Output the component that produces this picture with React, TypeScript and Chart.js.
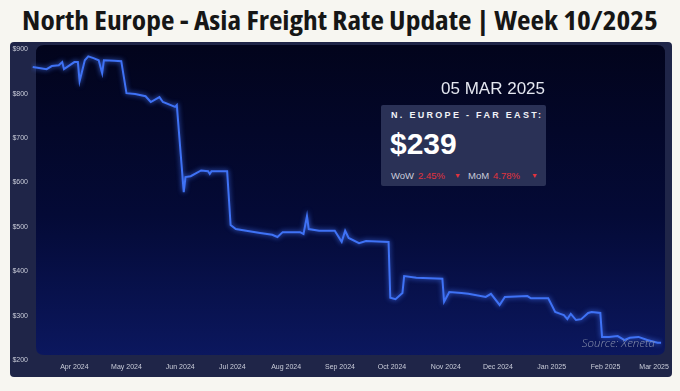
import React, { useEffect, useRef } from "react";
import { Chart, registerables } from "chart.js";
Chart.register(...registerables);

const titleText = "North Europe - Asia Freight Rate Update | Week 10/2025";
const dateLabel = "05 MAR 2025";
const routeLabel = "N. EUROPE - FAR EAST:";
const currentRate = "$239";
const wowChange = "2.45%";
const momChange = "4.78%";
const sourceText = "Source: Xeneta";

const dates = [
  "2024-03-08","2024-03-16","2024-03-19","2024-03-23","2024-03-25","2024-03-26","2024-04-01","2024-04-03","2024-04-04","2024-04-07",
  "2024-04-09","2024-04-12","2024-04-15","2024-04-17","2024-04-18","2024-04-24","2024-04-28","2024-05-01","2024-05-06","2024-05-12",
  "2024-05-15","2024-05-20","2024-05-22","2024-05-29","2024-05-30","2024-06-03","2024-06-04","2024-06-07","2024-06-13","2024-06-17",
  "2024-06-18","2024-06-19","2024-06-28","2024-06-30","2024-07-03","2024-07-09","2024-07-17","2024-07-24","2024-07-27","2024-07-30",
  "2024-08-09","2024-08-11","2024-08-13","2024-08-14","2024-08-20","2024-08-29","2024-09-02","2024-09-04","2024-09-06","2024-09-12",
  "2024-09-16","2024-09-29","2024-09-30","2024-10-03","2024-10-07","2024-10-08","2024-10-15","2024-10-30","2024-10-31","2024-11-03",
  "2024-11-10","2024-11-14","2024-11-24","2024-11-27","2024-12-02","2024-12-05","2024-12-18","2024-12-20","2024-12-30","2025-01-03",
  "2025-01-06","2025-01-08","2025-01-10","2025-01-12","2025-01-15","2025-01-18","2025-01-22","2025-01-24","2025-01-29","2025-01-30",
  "2025-02-03","2025-02-08","2025-02-12","2025-02-15","2025-02-20","2025-02-25","2025-03-03","2025-03-05",
];

const rates = [
  860, 855, 862, 864, 871, 855, 871, 871, 828, 875,
  884, 880, 875, 846, 875, 874, 873, 801, 799, 794,
  781, 792, 781, 770, 774, 578, 612, 614, 627, 625,
  619, 625, 625, 504, 495, 491, 486, 482, 477, 488,
  488, 484, 524, 495, 491, 491, 466, 491, 475, 463,
  468, 466, 340, 337, 351, 389, 385, 383, 331, 353,
  351, 349, 342, 349, 324, 342, 344, 339, 339, 308,
  304, 301, 292, 304, 290, 292, 306, 308, 306, 252,
  252, 254, 245, 250, 252, 245, 239, 239,
];

const tickDates = [
  "2024-04-01","2024-05-01","2024-06-01","2024-07-01","2024-08-01","2024-09-01",
  "2024-10-01","2024-11-01","2024-12-01","2025-01-01","2025-02-01","2025-03-01",
];
const tickLabels = [
  "Apr 2024","May 2024","Jun 2024","Jul 2024","Aug 2024","Sep 2024",
  "Oct 2024","Nov 2024","Dec 2024","Jan 2025","Feb 2025","Mar 2025",
];
const yTickValues = [200, 300, 400, 500, 600, 700, 800, 900];

const xMinDate = "2024-03-07";
const xMaxDate = "2025-03-06";

const BASE = Date.UTC(2024, 3, 1);
const toDay = (s: string) => {
  const [y, m, d] = s.split("-").map(Number);
  return (Date.UTC(y, m - 1, d) - BASE) / 86400000;
};

const roundRect = (ctx: CanvasRenderingContext2D, x: number, y: number, w: number, h: number, r: number) => {
  ctx.beginPath();
  ctx.moveTo(x + r, y);
  ctx.lineTo(x + w - r, y);
  ctx.quadraticCurveTo(x + w, y, x + w, y + r);
  ctx.lineTo(x + w, y + h - r);
  ctx.quadraticCurveTo(x + w, y + h, x + w - r, y + h);
  ctx.lineTo(x + r, y + h);
  ctx.quadraticCurveTo(x, y + h, x, y + h - r);
  ctx.lineTo(x, y + r);
  ctx.quadraticCurveTo(x, y, x + r, y);
  ctx.closePath();
};

const panelPlugin = {
  id: "panelBg",
  beforeDraw(chart: any) {
    const ctx = chart.ctx as CanvasRenderingContext2D;
    const W = chart.width;
    const H = chart.height;
    ctx.save();
    roundRect(ctx, 0, 0, W, H, 4);
    ctx.fillStyle = "#1f2548";
    ctx.fill();
    const ix = 26, iy = 3, iw = W - 26 - 7, ih = 310;
    const g = ctx.createLinearGradient(0, iy, 0, iy + ih);
    g.addColorStop(0, "#02041c");
    g.addColorStop(0.55, "#040a36");
    g.addColorStop(1, "#0b175e");
    roundRect(ctx, ix, iy, iw, ih, 8);
    ctx.fillStyle = g;
    ctx.fill();
    ctx.restore();
  },
  beforeDatasetDraw(chart: any) {
    const ctx = chart.ctx as CanvasRenderingContext2D;
    ctx.save();
    ctx.shadowColor = "rgba(70,120,255,0.9)";
    ctx.shadowBlur = 5;
  },
  afterDatasetDraw(chart: any) {
    chart.ctx.restore();
  },
};

function FreightChart() {
  const ref = useRef<HTMLCanvasElement | null>(null);
  useEffect(() => {
    if (!ref.current) return;
    const data = dates.map((d, i) => ({ x: toDay(d), y: rates[i] }));
    const chart = new Chart(ref.current, {
      type: "line",
      data: {
        datasets: [
          {
            data,
            borderColor: "#3f72f5",
            borderWidth: 2,
            pointRadius: 0,
            tension: 0,
            fill: false,
          },
        ],
      },
      options: {
        animation: false,
        responsive: false,
        devicePixelRatio: 1,
        layout: { padding: { top: 7, right: 7, left: 0, bottom: 0 } },
        plugins: { legend: { display: false }, tooltip: { enabled: false }, title: { display: false } },
        scales: {
          x: {
            type: "linear",
            min: toDay(xMinDate),
            max: toDay(xMaxDate),
            grid: { display: false, drawTicks: false, tickLength: 0 },
            border: { display: false },
            afterBuildTicks: (scale: any) => {
              scale.ticks = tickDates.map((d) => ({ value: toDay(d) }));
            },
            afterFit: (scale: any) => {
              scale.height = 17;
            },
            ticks: {
              color: "#c9ccd9",
              font: { family: "Liberation Sans", size: 7 },
              padding: 3,
              maxRotation: 0,
              autoSkip: false,
              callback: (v: any) => {
                const i = tickDates.findIndex((d) => toDay(d) === v);
                return i >= 0 ? tickLabels[i] : "";
              },
            },
          },
          y: {
            min: 200,
            max: 900,
            grid: { display: false, drawTicks: false, tickLength: 0 },
            border: { display: false },
            afterBuildTicks: (scale: any) => {
              scale.ticks = yTickValues.map((v) => ({ value: v }));
            },
            afterFit: (scale: any) => {
              scale.width = 21;
            },
            ticks: {
              color: "#c9ccd9",
              font: { family: "Liberation Sans", size: 7 },
              padding: 3,
              callback: (v: any) => "$" + v,
            },
          },
        },
      },
      plugins: [panelPlugin],
    } as any);
    return () => chart.destroy();
  }, []);
  return (
    <canvas
      ref={ref}
      width={662}
      height={335}
      style={{ position: "absolute", left: 10, top: 42, width: 662, height: 335 }}
    />
  );
}

export default function App() {
  const sans = "'Liberation Sans', Arial, sans-serif";
  return (
    <div
      style={{
        position: "fixed",
        left: 0,
        top: 0,
        width: 680,
        height: 391,
        background: "#f7f6f1",
        overflow: "hidden",
      }}
    >
      <div
        style={{
          position: "absolute",
          left: 0,
          top: 2,
          width: 680,
          textAlign: "center",
          fontFamily: "'Open Sans', sans-serif",
          fontWeight: 700,
          fontSize: 27,
          fontStretch: "75%",
          lineHeight: "36px",
          color: "#161616",
          whiteSpace: "nowrap",
          transform: "scaleX(1.09)",
          transformOrigin: "340px 50%",
        }}
      >
        {titleText}
      </div>
      <FreightChart />
      <div
        style={{
          position: "absolute",
          right: 680 - 545,
          top: 80,
          fontFamily: sans,
          fontSize: 17,
          lineHeight: "17px",
          color: "#e4e7f0",
          whiteSpace: "nowrap",
        }}
      >
        {dateLabel}
      </div>
      <div
        style={{
          position: "absolute",
          left: 381,
          top: 105,
          width: 165,
          height: 81,
          background: "#2a3156",
          borderRadius: 2,
        }}
      />
      <div
        style={{
          position: "absolute",
          left: 391,
          top: 110.5,
          fontFamily: sans,
          fontWeight: 700,
          fontSize: 9,
          lineHeight: "9px",
          letterSpacing: 2.3,
          color: "#f2f3f8",
          whiteSpace: "nowrap",
        }}
      >
        {routeLabel}
      </div>
      <div
        style={{
          position: "absolute",
          left: 390,
          top: 129,
          fontFamily: sans,
          fontWeight: 700,
          fontSize: 30,
          lineHeight: "30px",
          color: "#ffffff",
          whiteSpace: "nowrap",
        }}
      >
        {currentRate}
      </div>
      <div
        style={{
          position: "absolute",
          left: 391,
          top: 171,
          fontFamily: sans,
          fontSize: 9.5,
          lineHeight: "10px",
          color: "#c9ccd9",
          whiteSpace: "nowrap",
        }}
      >
        <span>WoW</span>
        <span style={{ position: "absolute", left: 27, color: "#e2333d" }}>{wowChange}</span>
        <span style={{ position: "absolute", left: 63, color: "#e2333d", fontSize: 7 }}>▼</span>
        <span style={{ position: "absolute", left: 77 }}>MoM</span>
        <span style={{ position: "absolute", left: 102, color: "#e2333d" }}>{momChange}</span>
        <span style={{ position: "absolute", left: 140, color: "#e2333d", fontSize: 7 }}>▼</span>
      </div>
      <div
        style={{
          position: "absolute",
          right: 680 - 655,
          top: 335,
          fontFamily: "'Open Sans', sans-serif",
          fontStyle: "italic",
          fontWeight: 300,
          fontSize: 11.5,
          lineHeight: "16px",
          color: "#8990ad",
          whiteSpace: "nowrap",
        }}
      >
        {sourceText}
      </div>
    </div>
  );
}
